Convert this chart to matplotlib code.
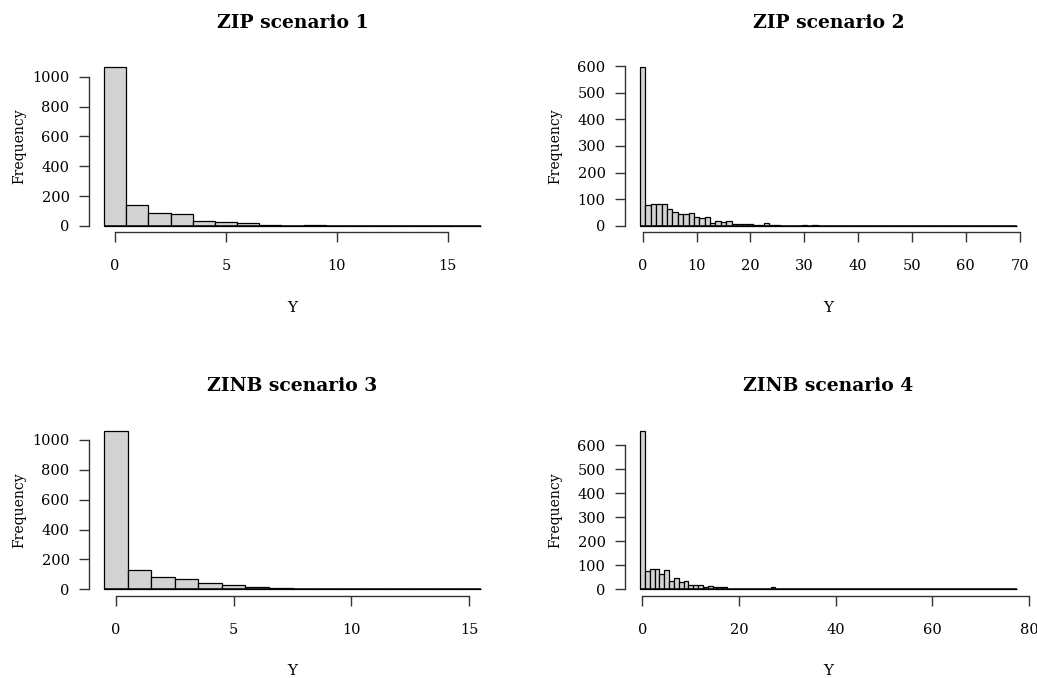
import numpy as np
import matplotlib
matplotlib.use("Agg")
import matplotlib.pyplot as plt

plt.rcParams['font.family'] = ['DejaVu Serif']

titles = ["ZIP scenario 1", "ZIP scenario 2", "ZINB scenario 3", "ZINB scenario 4"]

counts1 = [1063, 141, 85, 78, 33, 25, 18, 9, 1, 8, 1, 1, 0, 0, 0, 1, 1]
counts2 = [595, 78, 84, 84, 84, 63, 53, 43, 43, 49, 34, 28, 33, 10, 19, 13, 18, 9, 9, 9,
           8, 4, 4, 10, 3, 3, 1, 0, 0, 0, 4, 0, 4, 0, 0, 1, 0, 0, 0, 0,
           0, 0, 0, 0, 0, 0, 0, 0, 0, 0, 0, 0, 0, 0, 0, 0, 0, 0, 0, 0,
           0, 0, 0, 0, 0, 0, 0, 0, 0, 1]
counts3 = [1062, 132, 85, 69, 42, 27, 18, 9, 2, 1, 1, 0, 0, 0, 0, 1]
counts4 = [660, 75, 85, 85, 63, 81, 33, 47, 29, 36, 19, 19, 19, 11, 15, 8, 8, 8, 0, 3,
           3, 3, 3, 0, 0, 0, 3, 10, 0, 0, 0, 0, 0, 0, 0, 0, 0, 0, 0, 0,
           0, 0, 0, 0, 0, 0, 0, 0, 0, 0, 0, 0, 0, 0, 0, 0, 0, 0, 0, 0,
           0, 0, 0, 0, 0, 0, 0, 0, 0, 0, 0, 0, 0, 0, 0, 0, 0, 1]
all_counts = [counts1, counts2, counts3, counts4]

xticks = [[0, 5, 10, 15], list(range(0, 71, 10)), [0, 5, 10, 15], [0, 20, 40, 60, 80]]
yticks = [list(range(0, 1001, 200)), list(range(0, 601, 100)),
          list(range(0, 1001, 200)), list(range(0, 601, 100))]

W, H = 1037, 678
fig = plt.figure(figsize=(W / 100, H / 100), dpi=100)

boxes = [(89, 61, 407, 171.3), (625, 61, 407, 171.3),
         (89, 424.4, 407, 171.2), (625, 424.4, 407, 171.2)]

for i in range(4):
    x0, y0, w, h = boxes[i]
    ax = fig.add_axes([x0 / W, 1 - (y0 + h) / H, w / W, h / H])
    c = np.array(all_counts[i])
    vals = np.arange(len(c))
    lo, hi = -0.5, len(c) - 0.5
    ax.bar(vals, c, width=1.0, color='#D3D3D3', edgecolor='black', linewidth=0.9,
           align='center')
    ax.hlines(0, lo, hi, color='black', linewidth=1.1)
    ext = 0.04 * (hi - lo)
    ax.set_xlim(lo - ext, hi + ext)
    ymax = c.max()
    ax.set_ylim(-0.04 * ymax, ymax * 1.04)
    for s in ['top', 'right']:
        ax.spines[s].set_visible(False)
    ax.spines['left'].set_bounds(yticks[i][0], yticks[i][-1])
    ax.spines['bottom'].set_bounds(xticks[i][0], xticks[i][-1])
    for s in ['left', 'bottom']:
        ax.spines[s].set_color('#333333')
        ax.spines[s].set_linewidth(1.0)
    ax.set_xticks(xticks[i])
    ax.set_yticks(yticks[i])
    ax.tick_params(axis='both', length=7, width=1.0, color='#333333',
                   labelsize=10.5)
    ax.tick_params(axis='x', pad=12.5)
    ax.tick_params(axis='y', pad=7)
    ax.set_title(titles[i], fontsize=13.5, fontweight='bold', pad=24)
    ax.set_xlabel("Y", fontsize=11)
    ax.set_ylabel("Frequency", fontsize=10)
    ax.xaxis.set_label_coords(0.5, -0.40)
    ax.yaxis.set_label_coords(-0.155, 0.5)

fig.savefig("out.png", dpi=100)
